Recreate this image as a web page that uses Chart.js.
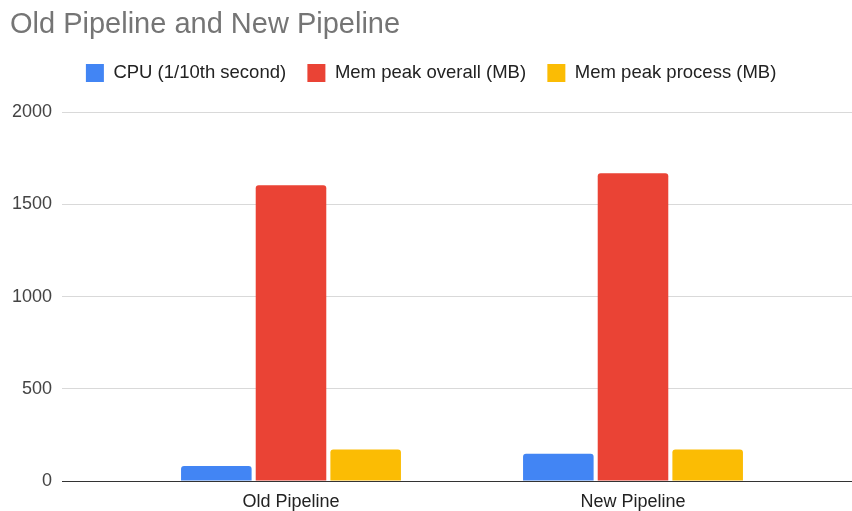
<!DOCTYPE html>
<html>
<head>
<meta charset="utf-8">
<script src="https://cdn.jsdelivr.net/npm/chart.js@4"></script>
<style>
  html, body { margin: 0; padding: 0; background: #fff; }
  #wrap { width: 852px; height: 511px; }
</style>
</head>
<body>
<div id="wrap"><canvas id="pipelineChart" width="852" height="511"></canvas></div>
<script>
const categories = ["Old Pipeline", "New Pipeline"];
const cpuTenths = [81, 148];
const memPeakOverall = [1604, 1670];
const memPeakProcess = [171, 171];
const yTicks = [0, 500, 1000, 1500, 2000];

const FONT = "Arial, 'Liberation Sans', sans-serif";
const gridColor = ctx => (ctx.tick && ctx.tick.value === 0 ? "#333333" : "#d9d9d9");

// give the legend some extra room below, like the original layout
const legendSpace = {
  id: "legendSpace",
  beforeInit(chart) {
    const origFit = chart.legend.fit;
    chart.legend.fit = function () {
      origFit.call(this);
      this.height += 20;
    };
  }
};

const barStyle = {borderRadius: {topLeft: 3, topRight: 3}, borderSkipped: "bottom", barPercentage: 0.945, categoryPercentage: 0.655};

new Chart(document.getElementById("pipelineChart"), {
  type: "bar",
  data: {
    labels: categories,
    datasets: [
      {label: "CPU (1/10th second)", data: cpuTenths, backgroundColor: "#4285f4", ...barStyle},
      {label: "Mem peak overall (MB)", data: memPeakOverall, backgroundColor: "#ea4335", ...barStyle},
      {label: "Mem peak process (MB)", data: memPeakProcess, backgroundColor: "#fbbc04", ...barStyle}
    ]
  },
  plugins: [legendSpace],
  options: {
    responsive: false,
    animation: false,
    layout: {padding: {left: 10, right: 0, top: 0, bottom: 0}},
    plugins: {
      title: {
        display: true,
        text: "Old Pipeline and New Pipeline",
        align: "start",
        color: "#757575",
        font: {family: FONT, size: 29, weight: "normal"},
        padding: {top: 8, bottom: 0}
      },
      legend: {
        display: true,
        position: "top",
        labels: {
          color: "#222222",
          font: {family: FONT, size: 18.5},
          usePointStyle: true,
          pointStyle: "rect",
          boxWidth: 24,
          boxHeight: 18,
          padding: 21
        }
      },
      tooltip: {enabled: false}
    },
    scales: {
      x: {
        grid: {drawOnChartArea: false, drawTicks: false},
        border: {display: false},
        ticks: {color: "#222222", font: {family: FONT, size: 18}, padding: 10},
        afterFit(scale) { scale.height = 30; }
      },
      y: {
        position: "left",
        min: 0,
        max: 2000,
        afterBuildTicks(scale) { scale.ticks = yTicks.map(v => ({value: v})); },
        grid: {color: gridColor, tickColor: gridColor, tickLength: 58},
        border: {display: false},
        ticks: {color: "#444444", font: {family: FONT, size: 18}, padding: 10, callback: v => String(v)},
        afterFit(scale) { scale.width = 110; }
      },
      yRight: {
        position: "right",
        min: 0,
        max: 2000,
        afterBuildTicks(scale) { scale.ticks = yTicks.map(v => ({value: v})); },
        grid: {drawOnChartArea: false, color: gridColor, tickColor: gridColor, tickLength: 48},
        border: {display: false},
        ticks: {display: false},
        afterFit(scale) { scale.width = 48; }
      }
    }
  }
});
</script>
</body>
</html>
